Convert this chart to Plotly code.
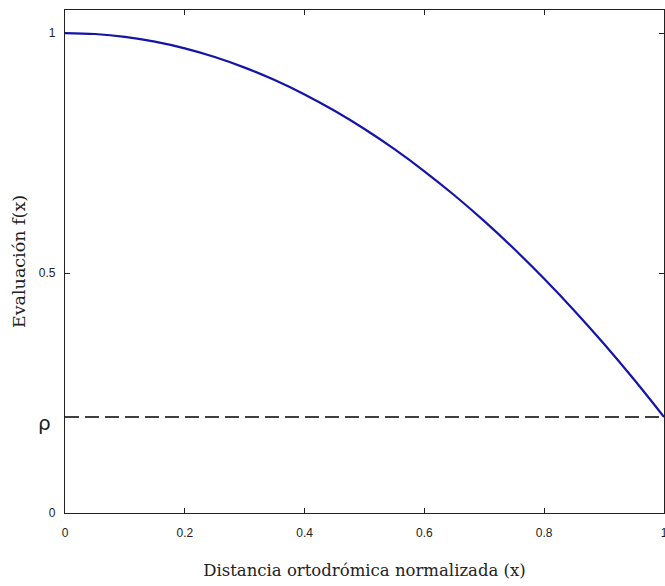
import plotly.graph_objects as go

x_vals = [0.00, 0.05, 0.10, 0.15, 0.20, 0.25, 0.30, 0.35, 0.40, 0.45, 0.50,
          0.55, 0.60, 0.65, 0.70, 0.75, 0.80, 0.85, 0.90, 0.95, 1.00]
f_vals = [1.000, 0.998, 0.992, 0.982, 0.968, 0.950, 0.928, 0.902, 0.872, 0.838, 0.800,
          0.758, 0.712, 0.662, 0.608, 0.550, 0.488, 0.422, 0.352, 0.278, 0.200]
rho = 0.2
x_ticks = [0, 0.2, 0.4, 0.6, 0.8, 1]
x_ticktext = ["0", "0.2", "0.4", "0.6", "0.8", "1"]
y_ticks = [0, 0.5, 1]
y_ticktext = ["0", "0.5", "1"]

fig = go.Figure()
fig.add_trace(go.Scatter(x=[0, 1], y=[rho, rho], mode="lines",
                         line=dict(color="#000000", width=1.5, dash="14px,6px"),
                         hoverinfo="skip", showlegend=False))
fig.add_trace(go.Scatter(x=x_vals, y=f_vals, mode="lines", line_shape="spline",
                         line=dict(color="#1414a8", width=2.2), showlegend=False))

axis_common = dict(showgrid=False, zeroline=False, showline=True, linecolor="#222222",
                   linewidth=1.2, mirror="ticks", ticks="inside", ticklen=5,
                   tickcolor="#222222", automargin=False, ticklabeloverflow="allow",
                   tickfont=dict(family="Liberation Sans, Arial", size=12, color="#222222"))

fig.update_xaxes(range=[0, 1], tickvals=x_ticks, ticktext=x_ticktext,
                 ticklabelstandoff=8,
                 title=dict(text="Distancia ortodrómica normalizada (x)",
                            font=dict(family="DejaVu Serif", size=16.5, color="#222222"),
                            standoff=25),
                 **axis_common)
fig.update_yaxes(range=[0, 1.048], tickvals=y_ticks, ticktext=y_ticktext,
                 ticklabelstandoff=6,
                 title=dict(text="Evaluación f(x)",
                            font=dict(family="DejaVu Serif", size=17.5, color="#222222"),
                            standoff=8),
                 **axis_common)

fig.add_annotation(x=0, y=rho, xref="x", yref="y", text="ρ", showarrow=False,
                   xanchor="right", yanchor="middle", xshift=-12, yshift=-6,
                   font=dict(family="DejaVu Sans", size=20, color="#222222"))

fig.update_layout(width=665, height=586, margin=dict(l=65, r=1, t=10, b=73),
                  paper_bgcolor="white", plot_bgcolor="white")

fig.write_html("out.html", config={"displayModeBar": False},
               post_script="document.body.style.margin='0px';document.body.style.overflow='hidden';")
